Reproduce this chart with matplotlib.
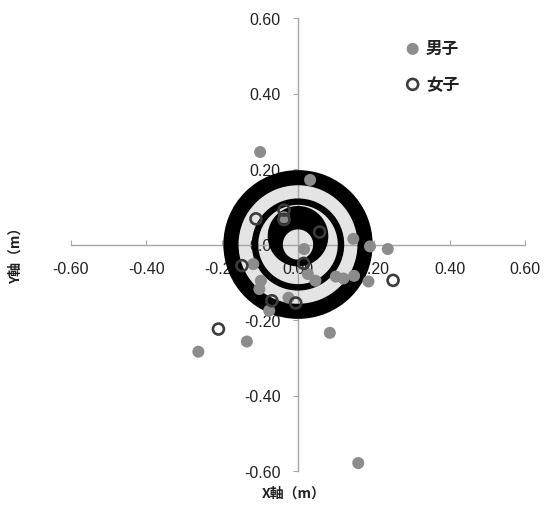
import numpy as np
import matplotlib
matplotlib.use("Agg")
import matplotlib.pyplot as plt
from matplotlib.patches import Wedge, Circle, Polygon
from matplotlib.ticker import FormatStrFormatter

# ---- data (metres) ----
male_x = [-0.100, 0.032, 0.146, 0.190, 0.237, 0.016, -0.037, -0.118, -0.098, -0.102,
          0.026, 0.046, 0.100, 0.120, 0.148, 0.186, -0.025, -0.076, -0.263, -0.135,
          0.084, 0.159]
male_y = [0.245, 0.171, 0.015, -0.005, -0.012, -0.012, 0.072, -0.052, -0.096, -0.118,
          -0.078, -0.096, -0.085, -0.090, -0.083, -0.098, -0.141, -0.175, -0.284, -0.257,
          -0.234, -0.579]
female_x = [-0.037, -0.037, -0.111, 0.057, -0.148, 0.015, -0.069, -0.006, 0.251, -0.210]
female_y = [0.091, 0.066, 0.068, 0.033, -0.056, -0.050, -0.149, -0.155, -0.095, -0.224]

ticks = [-0.6, -0.4, -0.2, 0.0, 0.2, 0.4, 0.6]
series_labels = ["男子", "女子"]
xlabel = "X軸（m）"
ylabel = "Y軸（m）"

# ---- figure ----
W, H = 544, 506
fig = plt.figure(figsize=(W / 100, H / 100), dpi=100)
ax = fig.add_axes([70.7 / W, 34 / H, (525.3 - 70.7) / W, 453 / H])
ax.set_xlim(-0.6, 0.6)
ax.set_ylim(-0.6, 0.6)
ax.set_axisbelow(True)

for s in ["top", "right"]:
    ax.spines[s].set_visible(False)
for s in ["left", "bottom"]:
    ax.spines[s].set_position("zero")
    ax.spines[s].set_color("#a6a6a6")
    ax.spines[s].set_linewidth(1.0)
    ax.spines[s].set_zorder(0.6)

ax.set_xticks(ticks)
ax.set_yticks(ticks)
ax.xaxis.set_major_formatter(FormatStrFormatter("%.2f"))
ax.yaxis.set_major_formatter(FormatStrFormatter("%.2f"))
tick_font = "Liberation Sans"
ax.tick_params(axis="x", direction="in", length=3.6, width=0.8, color="#a6a6a6",
               pad=12, labelsize=11.5, labelcolor="#222222")
ax.tick_params(axis="y", direction="out", length=3.6, width=0.8, color="#a6a6a6",
               pad=9, labelsize=11.5, labelcolor="#222222")
for lab in ax.get_xticklabels() + ax.get_yticklabels():
    lab.set_fontfamily(tick_font)

# ---- target ----
light = "#e4e4e4"
ax.add_patch(Circle((0, 0), 0.197, facecolor=light, edgecolor="none", zorder=0.2))
ax.add_patch(Wedge((0, 0), 0.197, 0, 360, width=0.040, facecolor="black",
                   edgecolor="none", zorder=1))
ax.add_patch(Wedge((0, 0), 0.122, 0, 360, width=0.017, facecolor="black",
                   edgecolor="none", zorder=1))
th = np.linspace(0, 2 * np.pi, 200)
outer = np.column_stack([0.080 * np.cos(th), 0.022 + 0.080 * np.sin(th)])
inner = np.column_stack([0.040 * np.cos(th[::-1]), 0.040 * np.sin(th[::-1])])
ax.add_patch(Polygon(np.vstack([outer, inner]), closed=True, facecolor="black",
                     edgecolor="none", zorder=1))

# ---- data marks ----
ax.scatter(male_x, male_y, s=75, color="#8c8c8c", edgecolors="none", zorder=3,
           label=series_labels[0])
ax.scatter(female_x, female_y, s=62, facecolors="none", edgecolors="#3c3c3c",
           linewidths=1.9, zorder=4, label=series_labels[1])

cjk = ["Noto Sans CJK JP", "DejaVu Sans"]
leg = ax.legend(loc="center left", bbox_to_anchor=(396 / W, 1 - 67 / H),
                bbox_transform=fig.transFigure, frameon=False, borderpad=0,
                handlelength=1.0, handletextpad=0.3, labelspacing=1.05,
                prop={"family": cjk, "size": 12, "weight": "bold"})
for t in leg.get_texts():
    t.set_color("#222222")

fig.text(294 / W, 1 - 494 / H, xlabel, ha="center", va="center",
         fontsize=10, fontweight="bold", family=cjk, color="#222222")
fig.text(16 / W, 1 - 252 / H, ylabel, ha="center", va="center", rotation=90,
         fontsize=10, fontweight="bold", family=cjk, color="#222222")

fig.savefig("out.png", dpi=100)
